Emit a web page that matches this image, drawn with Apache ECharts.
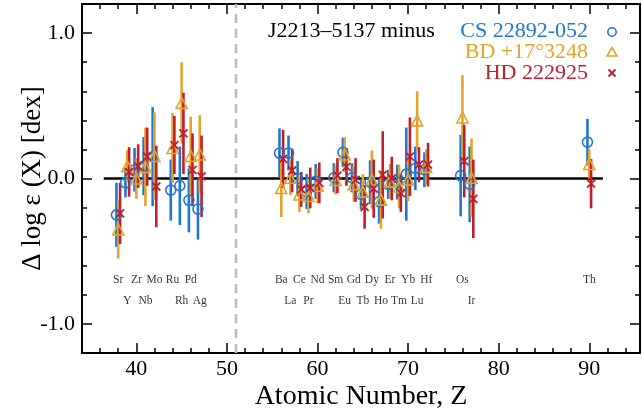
<!DOCTYPE html>
<html><head><meta charset="utf-8">
<script src="https://cdn.jsdelivr.net/npm/echarts@6/dist/echarts.min.js"></script>
<style>html,body{margin:0;padding:0;background:#fff}#c{width:642px;height:415px}</style>
</head><body><div id="c"></div>
<script>
// ---- data ----
const atomicZ = [38,39,40,41,42,44,45,46,47,56,57,58,59,60,62,63,64,65,66,67,68,69,70,71,72,76,77,90];
const elementNames = ['Sr','Y','Zr','Nb','Mo','Ru','Rh','Pd','Ag','Ba','La','Ce','Pr','Nd','Sm','Eu','Gd','Tb','Dy','Ho','Er','Tm','Yb','Lu','Hf','Os','Ir','Th'];
const csValues = [-0.25,-0.03,0.06,0.085,0.15,-0.08,-0.05,-0.15,-0.21,0.175,0.175,0.0,-0.09,-0.02,0.005,0.18,0.005,-0.11,-0.025,-0.16,-0.04,-0.025,0.03,0.07,0.06,0.02,-0.04,0.25];
const csErrors = [0.22,0.10,0.15,0.20,0.34,0.21,0.27,0.22,0.21,0.17,0.12,0.12,0.12,0.12,0.10,0.10,0.10,0.10,0.15,0.15,0.10,0.12,0.32,0.15,0.12,0.28,0.26,0.16];
const bdValues = [-0.35,0.085,0.0,0.08,0.155,0.21,0.52,0.155,0.165,-0.065,0.005,-0.11,-0.12,-0.05,-0.01,0.165,-0.04,-0.09,-0.007,-0.145,-0.02,-0.055,-0.007,0.40,0.08,0.42,0.005,0.10];
const bdErrors = [0.20,0.11,0.14,0.27,0.30,0.24,0.28,0.27,0.27,0.20,0.12,0.12,0.12,0.12,0.10,0.12,0.12,0.12,0.20,0.20,0.12,0.15,0.15,0.20,0.12,0.29,0.27,0.10];
const hdValues = [-0.24,0.045,0.085,0.15,-0.055,0.23,0.31,0.06,0.015,0.135,0.055,-0.075,-0.065,-0.03,0.02,0.08,-0.01,-0.195,-0.07,0.025,0.0,-0.10,0.15,0.095,0.095,0.12,-0.14,-0.035];
const hdErrors = [0.21,0.17,0.15,0.20,0.28,0.20,0.28,0.25,0.28,0.20,0.15,0.12,0.14,0.14,0.12,0.13,0.15,0.15,0.20,0.30,0.15,0.13,0.27,0.12,0.15,0.25,0.27,0.17];
const xTickLabels = [40,50,60,70,80,90];
const xMinorTicks = [36,38,42,44,46,48,52,54,56,58,62,64,66,68,72,74,76,78,82,84,86,88,92,94];
const yTickLabels = [-1.0,0.0,1.0];
const yMinorTicks = [-0.8,-0.6,-0.4,-0.2,0.2,0.4,0.6,0.8];
const zeroLineRange = [36.4, 91.5];
const separatorZ = 51;
const starNames = ['CS 22892-052','BD +17°3248','HD 222925'];
const titleText = 'J2213–5137 minus';

// ---- style ----
const FONT = 'Liberation Serif';
const BLUE = '#1f77d4', GOLD = '#e2a52a', RED = '#bf1e2e';
const XMIN = 34, XMAX = 95.6, YMIN = -1.2, YMAX = 1.2;
const XPATH = 'path://M0,0L10,10M0,10L10,0';

const chart = echarts.init(document.getElementById('c'), null, {renderer:'canvas'});

function baseX(extra){ return Object.assign({type:'value', min:XMIN, max:XMAX, gridIndex:0, splitLine:{show:false},
  axisLine:{show:true, onZero:false, lineStyle:{color:'#000', width:2}}}, extra); }
function baseY(extra){ return Object.assign({type:'value', min:YMIN, max:YMAX, gridIndex:0, splitLine:{show:false},
  axisLine:{show:true, onZero:false, lineStyle:{color:'#000', width:2}}}, extra); }

const xAxes = [
  baseX({position:'bottom', axisTick:{inside:true, length:10, lineStyle:{width:1.5,color:'#000'}, customValues:xTickLabels},
    axisLabel:{customValues:xTickLabels, fontFamily:FONT, fontSize:22, color:'#000', margin:5},
    name:'Atomic Number, Z', nameLocation:'middle', nameGap:30, nameMoveOverlap:false, nameTextStyle:{fontFamily:FONT, fontSize:28, color:'#000'}}),
  baseX({position:'bottom', axisTick:{inside:true, length:5, lineStyle:{width:1.5,color:'#000'}, customValues:xMinorTicks}, axisLabel:{show:false}}),
  baseX({position:'top', axisTick:{inside:true, length:10, lineStyle:{width:1.5,color:'#000'}, customValues:xTickLabels}, axisLabel:{show:false}}),
  baseX({position:'top', axisTick:{inside:true, length:5, lineStyle:{width:1.5,color:'#000'}, customValues:xMinorTicks}, axisLabel:{show:false}})
];
const yAxes = [
  baseY({position:'left', axisTick:{inside:true, length:10, lineStyle:{width:1.5,color:'#000'}, customValues:yTickLabels},
    axisLabel:{customValues:yTickLabels, fontFamily:FONT, fontSize:22, color:'#000', margin:7, formatter:v=>v.toFixed(1)},
    name:'Δ log ε (X) [dex]', nameLocation:'middle', nameGap:36, nameMoveOverlap:false, nameTextStyle:{fontFamily:FONT, fontSize:27, color:'#000'}}),
  baseY({position:'left', axisTick:{inside:true, length:5, lineStyle:{width:1.5,color:'#000'}, customValues:yMinorTicks}, axisLabel:{show:false}}),
  baseY({position:'right', axisTick:{inside:true, length:10, lineStyle:{width:1.5,color:'#000'}, customValues:yTickLabels}, axisLabel:{show:false}}),
  baseY({position:'right', axisTick:{inside:true, length:5, lineStyle:{width:1.5,color:'#000'}, customValues:yMinorTicks}, axisLabel:{show:false}})
];

function errSeries(name, vals, errs, dx, color){
  const data = [];
  atomicZ.forEach((z,i)=>{ if(vals[i]!=null) data.push([z+dx, vals[i]-errs[i], vals[i]+errs[i]]); });
  return {type:'custom', name:name+' err', data, encode:{x:0,y:[1,2]}, z:3, silent:true,
    renderItem(params, api){
      const p1 = api.coord([api.value(0), api.value(1)]);
      const p2 = api.coord([api.value(0), api.value(2)]);
      return {type:'line', shape:{x1:p1[0],y1:p1[1],x2:p2[0],y2:p2[1]}, style:{stroke:color, lineWidth:2.6}};
    }};
}
function markSeries(name, vals, dx, color, symbol, size, bw){
  const data = [];
  atomicZ.forEach((z,i)=>{ if(vals[i]!=null) data.push([z+dx, vals[i]]); });
  return {type:'scatter', name, data, symbol, symbolSize:size, z:4, silent:true,
    itemStyle:{color:'rgba(0,0,0,0)', borderColor:color, borderWidth:bw, opacity:1}};
}

const labelData = atomicZ.map((z,i)=>[z, (z%2===0)? -0.70 : -0.84, elementNames[i]]);

const option = {
  animation:false,
  backgroundColor:'#fff',
  grid:{left:82, right:2, top:4, bottom:62, containLabel:false, outerBoundsMode:'none'},
  xAxis:xAxes, yAxis:yAxes,
  series:[
    {type:'line', name:'sep', data:[[separatorZ,YMIN],[separatorZ,YMAX]], symbol:'none', silent:true, z:1,
      lineStyle:{color:'#bdbdbd', width:2.6, type:[9,6]}},
    {type:'line', name:'zero', data:[[zeroLineRange[0],0],[zeroLineRange[1],0]], symbol:'none', silent:true, z:2,
      lineStyle:{color:'#000', width:2.5}},
    errSeries(starNames[0], csValues, csErrors, -0.2, BLUE),
    markSeries(starNames[0], csValues, -0.2, BLUE, 'circle', 10, 1.6),
    errSeries(starNames[1], bdValues, bdErrors, 0, GOLD),
    markSeries(starNames[1], bdValues, 0, GOLD, 'triangle', 11, 1.6),
    errSeries(starNames[2], hdValues, hdErrors, 0.2, RED),
    markSeries(starNames[2], hdValues, 0.2, RED, XPATH, 8, 1.8),
    {type:'scatter', name:'labels', data:labelData, symbolSize:0, silent:true, z:5,
      label:{show:true, position:'inside', formatter:p=>p.data[2], fontFamily:FONT, fontSize:11.5, color:'#000'}}
  ],
  graphic:[
    {type:'text', left:268, top:20, style:{text:titleText, font:'22px "Liberation Serif"', fill:'#000'}},
    {type:'text', right:54, top:20, style:{text:starNames[0], font:'22px "Liberation Serif"', fill:BLUE}},
    {type:'text', right:54, top:41, style:{text:starNames[1], font:'22px "Liberation Serif"', fill:GOLD}},
    {type:'text', right:54, top:62, style:{text:starNames[2], font:'22px "Liberation Serif"', fill:RED}},
    {type:'circle', shape:{cx:612, cy:32, r:4.2}, style:{fill:'none', stroke:BLUE, lineWidth:1.6}},
    {type:'polygon', shape:{points:[[612,47.5],[607,56],[617,56]]}, style:{fill:'none', stroke:GOLD, lineWidth:1.6}},
    {type:'polyline', shape:{points:[[608.5,69.5],[615.5,76.5]]}, style:{stroke:RED, lineWidth:1.8}},
    {type:'polyline', shape:{points:[[615.5,69.5],[608.5,76.5]]}, style:{stroke:RED, lineWidth:1.8}}
  ]
};
chart.setOption(option);
</script></body></html>
